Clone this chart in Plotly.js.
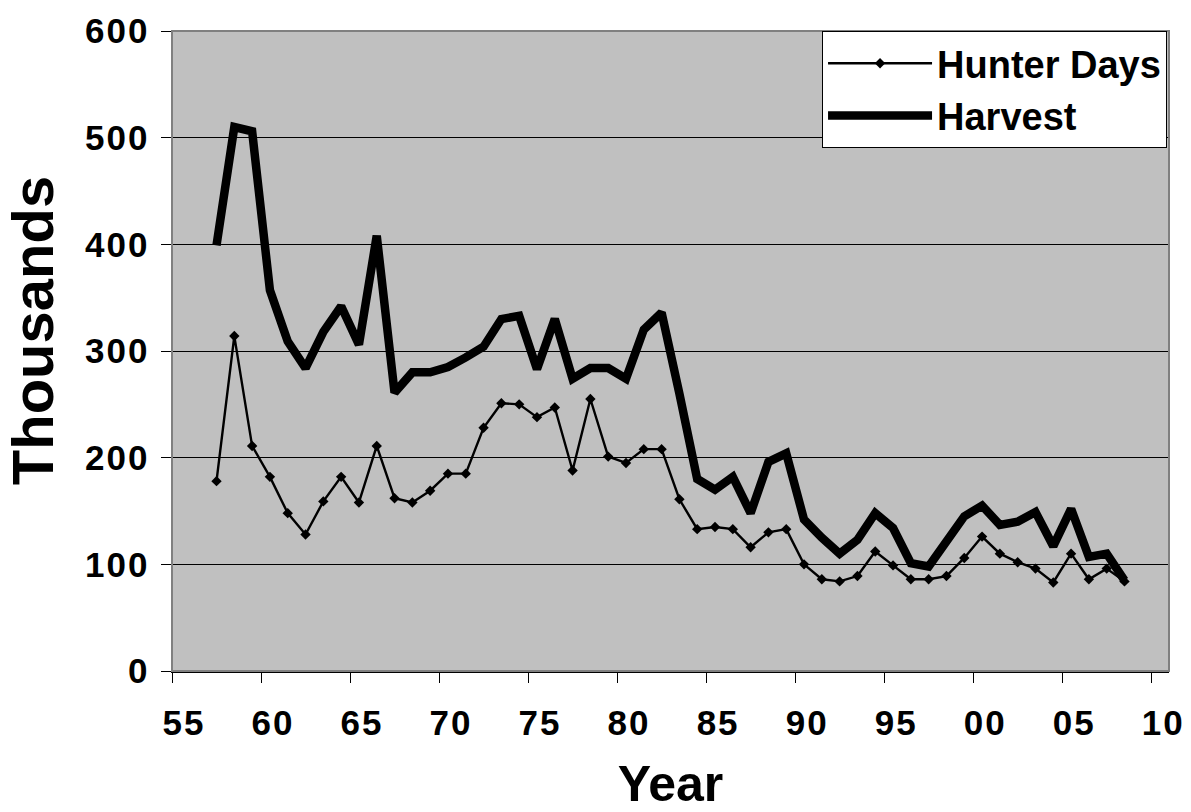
<!DOCTYPE html>
<html>
<head>
<meta charset="utf-8">
<script src="https://cdn.plot.ly/plotly-3.0.1.min.js"></script>
<style>
html, body { margin: 0; padding: 0; background: #ffffff; }
#chart { width: 1191px; height: 812px; }
.xtick text, .ytick text { letter-spacing: 2px; }
</style>
</head>
<body>
<div id="chart"></div>
<script>
// Season mid-points (57.5 = 1957/58 season ... 108.5 = 2008/09 season)
var years = [57.5, 58.5, 59.5, 60.5, 61.5, 62.5, 63.5, 64.5, 65.5, 66.5,
             67.5, 68.5, 69.5, 70.5, 71.5, 72.5, 73.5, 74.5, 75.5, 76.5,
             77.5, 78.5, 79.5, 80.5, 81.5, 82.5, 83.5, 84.5, 85.5, 86.5,
             87.5, 88.5, 89.5, 90.5, 91.5, 92.5, 93.5, 94.5, 95.5, 96.5,
             97.5, 98.5, 99.5, 100.5, 101.5, 102.5, 103.5, 104.5, 105.5, 106.5,
             107.5, 108.5];

var hunterDays = [178, 314, 211, 182, 148, 128, 159, 182, 158, 211,
                  162, 158, 169, 185, 185, 228, 251, 250, 238, 247,
                  188, 255, 201, 195, 208, 208, 161, 133, 135, 133,
                  116, 130, 133, 100, 86, 84, 89, 112, 99, 86,
                  86, 89, 106, 126, 110, 102, 96, 83, 110, 86,
                  96, 84];

var harvest = [399, 510, 506, 357, 309, 284, 318, 342, 306, 408,
               261, 280, 280, 285, 294, 304, 330, 333, 283, 330,
               274, 284, 284, 274, 320, 336, 260, 180, 170, 182,
               148, 196, 204, 142, 125, 110, 123, 148, 134, 101,
               98, 123, 145, 155, 137, 140, 149, 117, 152, 107,
               110, 85];

var xTickVals = [55, 60, 65, 70, 75, 80, 85, 90, 95, 100, 105, 110];
var xTickText = ["55", "60", "65", "70", "75", "80", "85", "90", "95", "00", "05", "10"];
var yTickVals = [0, 100, 200, 300, 400, 500, 600];

var FONT = "Liberation Sans, Arial, Helvetica, sans-serif";

var traces = [
  {
    x: years, y: hunterDays, name: "Hunter Days",
    type: "scatter", mode: "lines+markers",
    line: { color: "#000000", width: 2.4 },
    marker: { symbol: "diamond", size: 8, color: "#000000" }
  },
  {
    x: years, y: harvest, name: "Harvest",
    type: "scatter", mode: "lines",
    line: { color: "#000000", width: 8.5 }
  }
];

var layout = {
  width: 1191, height: 812,
  margin: { l: 172, r: 22, t: 31, b: 141, pad: 0 },
  paper_bgcolor: "#ffffff",
  plot_bgcolor: "#c0c0c0",
  showlegend: true,
  font: { family: FONT, color: "#000000", weight: "bold" },
  xaxis: {
    range: [55, 111],
    tickmode: "array", tickvals: xTickVals, ticktext: xTickText,
    ticks: "outside", ticklen: 10, tickwidth: 1, tickcolor: "#000000",
    showgrid: false, zeroline: false,
    showline: true, linecolor: "#000000", linewidth: 1.5,
    tickfont: { family: FONT, size: 35, color: "#000000", weight: "bold" },
    ticklabelshift: 12,
    ticklabelstandoff: 10,
    title: { text: "Year", font: { family: FONT, size: 50, color: "#000000", weight: "bold" }, standoff: 28 }
  },
  yaxis: {
    range: [0, 600],
    tickmode: "array", tickvals: yTickVals,
    ticks: "outside", ticklen: 10, tickwidth: 1, tickcolor: "#000000",
    showgrid: true, gridcolor: "#000000", gridwidth: 1,
    zeroline: false,
    showline: true, linecolor: "#000000", linewidth: 1.5,
    tickfont: { family: FONT, size: 35, color: "#000000", weight: "bold" },
    ticklabelstandoff: 4
  },
  legend: {
    x: 0.652, xanchor: "left",
    y: 1.0, yanchor: "top",
    bgcolor: "#ffffff", bordercolor: "#000000", borderwidth: 1,
    font: { family: FONT, size: 38, color: "#000000", weight: "bold" },
    itemwidth: 104,
    tracegroupgap: 0
  },
  shapes: [
    { type: "rect", xref: "paper", yref: "paper", x0: 0, x1: 1, y0: 0, y1: 1,
      line: { color: "#808080", width: 2 }, fillcolor: "rgba(0,0,0,0)", layer: "above" }
  ],
  annotations: [
    { text: "Thousands", xref: "paper", yref: "paper", x: -0.1404, y: 0.531,
      xanchor: "center", yanchor: "middle", textangle: -90, showarrow: false,
      font: { family: FONT, size: 58, color: "#000000", weight: "bold" } }
  ]
};

Plotly.newPlot("chart", traces, layout, { staticPlot: true, displayModeBar: false });
</script>
</body>
</html>
